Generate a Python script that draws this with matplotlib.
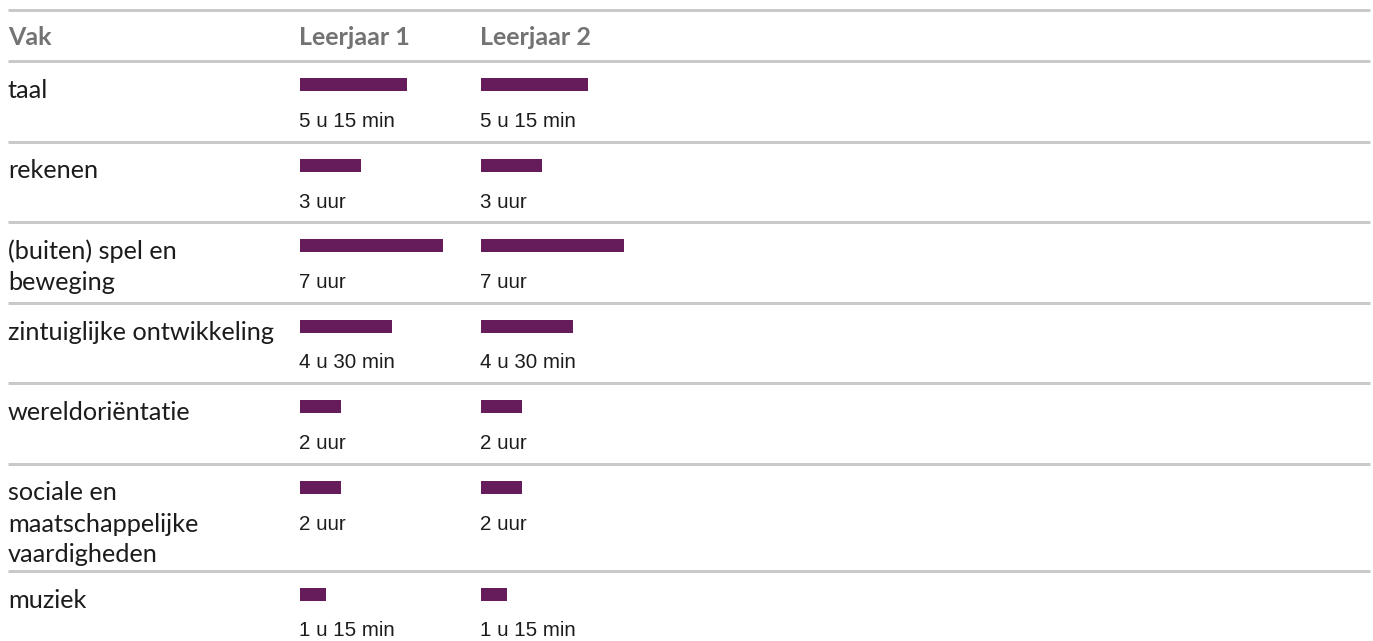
import matplotlib
matplotlib.use("Agg")
import matplotlib.pyplot as plt

# ---- data ----
kolomkoppen = ["Vak", "Leerjaar 1", "Leerjaar 2"]
vakken = [
    "taal",
    "rekenen",
    "(buiten) spel en\nbeweging",
    "zintuiglijke ontwikkeling",
    "wereldoriëntatie",
    "sociale en\nmaatschappelijke\nvaardigheden",
    "muziek",
]
leerjaar1_uren = [5.25, 3, 7, 4.5, 2, 2, 1.25]
leerjaar2_uren = [5.25, 3, 7, 4.5, 2, 2, 1.25]
leerjaar1_labels = ["5 u 15 min", "3 uur", "7 uur", "4 u 30 min", "2 uur", "2 uur", "1 u 15 min"]
leerjaar2_labels = ["5 u 15 min", "3 uur", "7 uur", "4 u 30 min", "2 uur", "2 uur", "1 u 15 min"]

# ---- layout (pixels) ----
W, H = 1373, 641
BAR_COLOR = "#661b5a"
LINE_COLOR = "#c9c9c9"
HEAD_COLOR = "#737373"
TEXT_COLOR = "#1c1c1c"
LABEL_FONT = ["Lato", "DejaVu Sans"]
VALUE_FONT = ["Liberation Sans", "DejaVu Sans"]

fig = plt.figure(figsize=(W / 100, H / 100), dpi=100)
ax = fig.add_axes([0, 0, 1, 1])
ax.set_xlim(0, W)
ax.set_ylim(H, 0)
ax.axis("off")

line_lw = 3 * 72 / 100
x_left, x_right = 8, 1370
col_x = [300, 481]
px_per_hour = 20.4
hours_span = 8

def hline(y):
    ax.plot([x_left, x_right], [y, y], color=LINE_COLOR, lw=line_lw, solid_capstyle="butt")

# header
hline(10)
hline(61)
head_x = [8, 299, 480]
for t, x in zip(kolomkoppen, head_x):
    ax.text(x, 45, t, fontsize=18, fontweight="bold", color=HEAD_COLOR,
            family=LABEL_FONT, va="baseline", ha="left")

# bar axes per column
bar_axes = []
for cx in col_x:
    bax = fig.add_axes([cx / W, 0, hours_span * px_per_hour / W, 1])
    bax.set_xlim(0, hours_span)
    bax.set_ylim(H, 0)
    bax.axis("off")
    bax.patch.set_alpha(0)
    bar_axes.append(bax)

top = 61
tops = []
for v in vakken:
    n = len(v.split("\n"))
    rh = max(80.5, 37 + 31 * (n - 1) + 8)
    tops.append((top, rh))
    top += rh

centers = [t + 23.5 for t, _ in tops]
bar_axes[0].barh(centers, leerjaar1_uren, height=13, left=0, color=BAR_COLOR)
bar_axes[1].barh(centers, leerjaar2_uren, height=13, left=0, color=BAR_COLOR)

for i, (t, rh) in enumerate(tops):
    for j, line in enumerate(vakken[i].split("\n")):
        ax.text(8, t + 37 + 31 * j, line, fontsize=18.2, color=TEXT_COLOR,
                family=LABEL_FONT, va="baseline", ha="left")
    for cx, labs in zip([299, 480], [leerjaar1_labels, leerjaar2_labels]):
        ax.text(cx, t + 66, labs[i], fontsize=14.8, color=TEXT_COLOR,
                family=VALUE_FONT, va="baseline", ha="left")
    hline(t + rh)

fig.savefig("out.png", dpi=100)
